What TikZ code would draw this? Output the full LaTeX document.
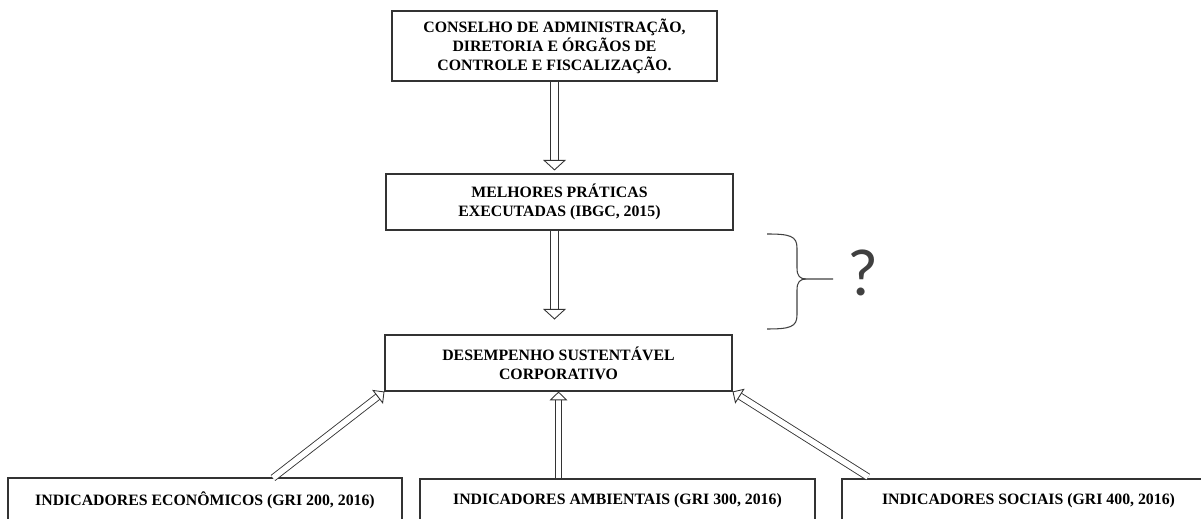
\documentclass[tikz,border=0pt]{standalone}
\usepackage{fontspec}
\setmainfont{Liberation Serif}
\newfontfamily\qfont{Carlito}
\usetikzlibrary{arrows.meta}
\definecolor{boxline}{rgb}{0.2,0.2,0.2}
\definecolor{inkgray}{rgb}{0.25,0.25,0.25}
\tikzset{
    box/.style={draw=boxline,line width=0.6pt,inner sep=0pt,align=center,
        font=\bfseries\fontsize{9}{10.8}\selectfont},
    hollow/.style={draw=boxline,double,double distance=4.3pt,line width=0.5pt,
        -{Triangle[open,length=6pt,width=13pt]}},
    hollowsmall/.style={draw=boxline,double,double distance=3.2pt,line width=0.5pt,
        -{Triangle[open,length=5pt,width=10pt]}}
}
\begin{document}
\begin{tikzpicture}[x=0.02cm,y=-0.02cm]
    \useasboundingbox (0,0) rectangle (1201,519);
    \clip (0,0) rectangle (1201,519);
    % boxes
    \node[box,minimum width=325*0.02cm,minimum height=70*0.02cm] (conselho) at (554.5,46)
        {CONSELHO DE ADMINISTRAÇÃO,\\DIRETORIA E ÓRGÃOS DE\\CONTROLE E FISCALIZAÇÃO.};
    \node[box,minimum width=347*0.02cm,minimum height=56*0.02cm] (praticas) at (559.5,202)
        {MELHORES PRÁTICAS\\EXECUTADAS (IBGC, 2015)};
    \node[box,minimum width=347*0.02cm,minimum height=56*0.02cm] (desempenho) at (558.5,363)
        {DESEMPENHO SUSTENTÁVEL\\CORPORATIVO};
    \node[box,minimum width=394*0.02cm,minimum height=44*0.02cm] (economicos) at (205,500)
        {INDICADORES ECONÔMICOS (GRI 200, 2016)};
    \node[box,minimum width=395*0.02cm,minimum height=44*0.02cm] (ambientais) at (617.5,501)
        {INDICADORES AMBIENTAIS (GRI 300, 2016)};
    \node[box,minimum width=373*0.02cm,minimum height=44*0.02cm] (sociais) at (1028.5,501)
        {INDICADORES SOCIAIS (GRI 400, 2016)};
    % arrows down
    \draw[hollow,shorten >=1.7pt] (conselho.south) -- (conselho.south |- praticas.north);
    \draw[hollow,shorten >=8.5pt] (conselho.south |- praticas.south) -- (conselho.south |- desempenho.north);
    % arrows up
    \coordinate (ecotail) at (273,478);
    \coordinate (soctail) at (868,477);
    \draw[hollowsmall] (ecotail) -- (desempenho.south west);
    \draw[hollowsmall] (desempenho.south |- ambientais.north) -- (desempenho.south);
    \draw[hollowsmall] (soctail) -- (desempenho.south east);
    % brace and question
    \draw[inkgray,line width=0.6pt]
        (767,234) .. controls (790,234) and (797,236) .. (797,248) -- (797,268)
        .. controls (797,276) and (800,279) .. (806,279) -- (833,279);
    \draw[inkgray,line width=0.6pt]
        (767,329) .. controls (790,329) and (797,327) .. (797,315) -- (797,290)
        .. controls (797,282) and (800,279) .. (806,279);
    \node[inkgray,inner sep=0pt,font=\qfont\fontsize{38}{40}\selectfont] (duvida) at (862.5,272.5) {?};
\end{tikzpicture}
\end{document}
